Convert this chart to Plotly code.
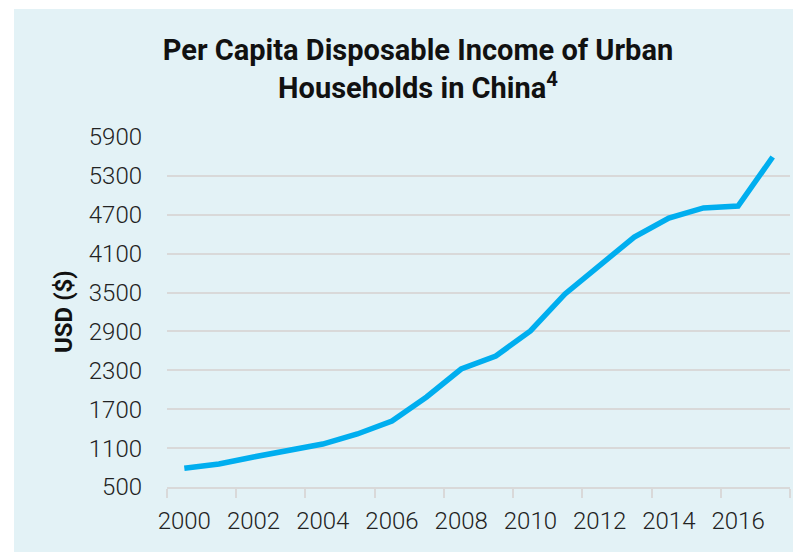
import plotly.graph_objects as go

# 연도별 도시 가구 1인당 가처분소득 (USD)
years = list(range(2000, 2018))
income = [790, 855, 963, 1055, 1163, 1318, 1518, 1889, 2320, 2521,
          2907, 3478, 3925, 4357, 4650, 4805, 4835, 5591]
y_ticks = [500, 1100, 1700, 2300, 2900, 3500, 4100, 4700, 5300, 5900]
x_ticks = [2000, 2002, 2004, 2006, 2008, 2010, 2012, 2014, 2016]

BG = '#E3F2F6'
GRID = '#D9D9D9'
LINE = '#00AEEF'
FONT = 'Roboto'

fig = go.Figure()
fig.add_trace(go.Scatter(
    x=years,
    y=income,
    mode='lines',
    line=dict(color=LINE, width=5.5),
    showlegend=False,
    hoverinfo='skip'
))

# 페이지 body 여백(8px) 만큼 줄인 크기
W, H = 793, 544
L, R, T, B = 159, 11, 129, 65
pw, ph = W - L - R, H - T - B

# 배경 패널 (위/왼쪽 흰 여백)
fig.add_shape(type='rect', xref='paper', yref='paper', layer='below',
              x0=(6 - L) / pw, x1=(W - L) / pw,
              y0=-B / ph, y1=(H - 1 - B) / ph,
              fillcolor=BG, line=dict(width=0))

fig.add_annotation(
    text='<b>USD ($)</b>', xref='paper', yref='paper',
    x=(56 - L) / pw, y=0.5, textangle=-90, showarrow=False,
    xanchor='center', yanchor='middle',
    font=dict(family=FONT, size=24, color='#111111')
)

fig.update_layout(
    width=W, height=H,
    margin=dict(l=L, r=R, t=T, b=B),
    paper_bgcolor='white',
    plot_bgcolor='rgba(0,0,0,0)',
    title=dict(
        text='<b>Per Capita Disposable Income of Urban<br>Households in China<sup>4</sup></b>',
        x=410 / W, xanchor='center', y=0.904, yanchor='middle',
        font=dict(family=FONT, size=29, color='#111111')
    ),
    font=dict(family=FONT, color='#222222'),
)
fig.layout.title.xref = 'container'

fig.update_xaxes(
    range=[1999.5, 2017.5],
    tickvals=x_ticks,
    ticktext=[str(v) for v in x_ticks],
    ticks='',
    showgrid=False,
    showline=True, linecolor=GRID, linewidth=2,
    minor=dict(ticks='outside', tick0=1999.5, dtick=2, ticklen=9,
               tickcolor=GRID, tickwidth=2, showgrid=False),
    tickfont=dict(family=FONT, size=24, color='#222222', weight=300),
    ticklabelstandoff=11,
    zeroline=False
)
fig.update_yaxes(
    range=[500, 5900],
    tickvals=y_ticks,
    ticks='',
    showgrid=True, gridcolor=GRID, gridwidth=2,
    showline=False,
    zeroline=False,
    tickfont=dict(family=FONT, size=24, color='#222222', weight=300),
    ticklabelstandoff=24
)

fig.write_html('out.html')
